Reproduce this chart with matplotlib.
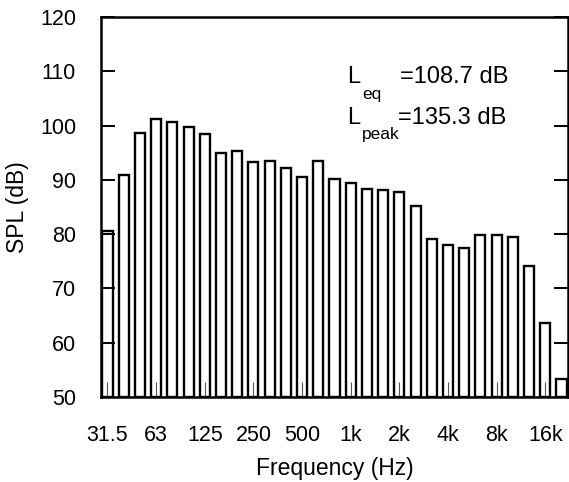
import matplotlib
matplotlib.use("Agg")
import matplotlib.pyplot as plt
import numpy as np

plt.rcParams['font.family'] = ['Liberation Sans', 'DejaVu Sans']

bands = ["31.5", "40", "50", "63", "80", "100", "125", "160", "200", "250", "315", "400",
         "500", "630", "800", "1k", "1.25k", "1.6k", "2k", "2.5k", "3.15k", "4k", "5k",
         "6.3k", "8k", "10k", "12.5k", "16k", "20k"]
spl = [80.5, 90.9, 98.6, 101.3, 100.7, 99.7, 98.4, 94.9, 95.4, 93.2, 93.4, 92.1,
       90.6, 93.4, 90.2, 89.4, 88.3, 88.1, 87.7, 85.2, 79.1, 78.0, 77.4, 79.8,
       79.8, 79.4, 74.2, 63.6, 53.3]
tick_labels = ["31.5", "63", "125", "250", "500", "1k", "2k", "4k", "8k", "16k"]
y_ticks = [50, 60, 70, 80, 90, 100, 110, 120]

W, H = 569, 482
fig = plt.figure(figsize=(W / 100, H / 100), dpi=100)
ax = fig.add_axes([101 / W, 1 - 397 / H, (568 - 101) / W, (397 - 17) / H])

x = np.arange(len(bands))
ax.bar(x, np.array(spl) - 50, bottom=50, width=0.62, facecolor='white',
       edgecolor='black', linewidth=1.7)

ax.set_xlim(-0.4, 28.4)
ax.set_ylim(50, 120)
ax.set_yticks(y_ticks)
ax.set_yticklabels([str(v) for v in y_ticks])
ticks_idx = [bands.index(t) for t in tick_labels]
ax.set_xticks(ticks_idx)
ax.set_xticklabels(tick_labels)

ax.tick_params(axis='y', direction='in', length=10, width=1.4, pad=18,
               labelsize=15.5, right=True, left=True)
ax.tick_params(axis='x', direction='in', length=11, width=0.8, pad=20,
               labelsize=15.5, colors='#555555', labelcolor='black')
for s in ax.spines.values():
    s.set_linewidth(1.8)

ax.set_xlabel("Frequency (Hz)", fontsize=16.5, labelpad=8)
ax.set_ylabel("SPL (dB)", fontsize=16.5, labelpad=8)

fs = 17
fig.text(347 / W, 1 - 77 / H, "L", fontsize=fs, va='center', ha='left')
fig.text(362 / W, 1 - 95 / H, "eq", fontsize=12.5, va='center', ha='left')
fig.text(400 / W, 1 - 77 / H, "=108.7 dB", fontsize=fs, va='center', ha='left')
fig.text(347 / W, 1 - 118 / H, "L", fontsize=fs, va='center', ha='left')
fig.text(362 / W, 1 - 135 / H, "peak", fontsize=12.5, va='center', ha='left')
fig.text(398 / W, 1 - 118 / H, "=135.3 dB", fontsize=fs, va='center', ha='left')

fig.savefig("out.png", dpi=100)
